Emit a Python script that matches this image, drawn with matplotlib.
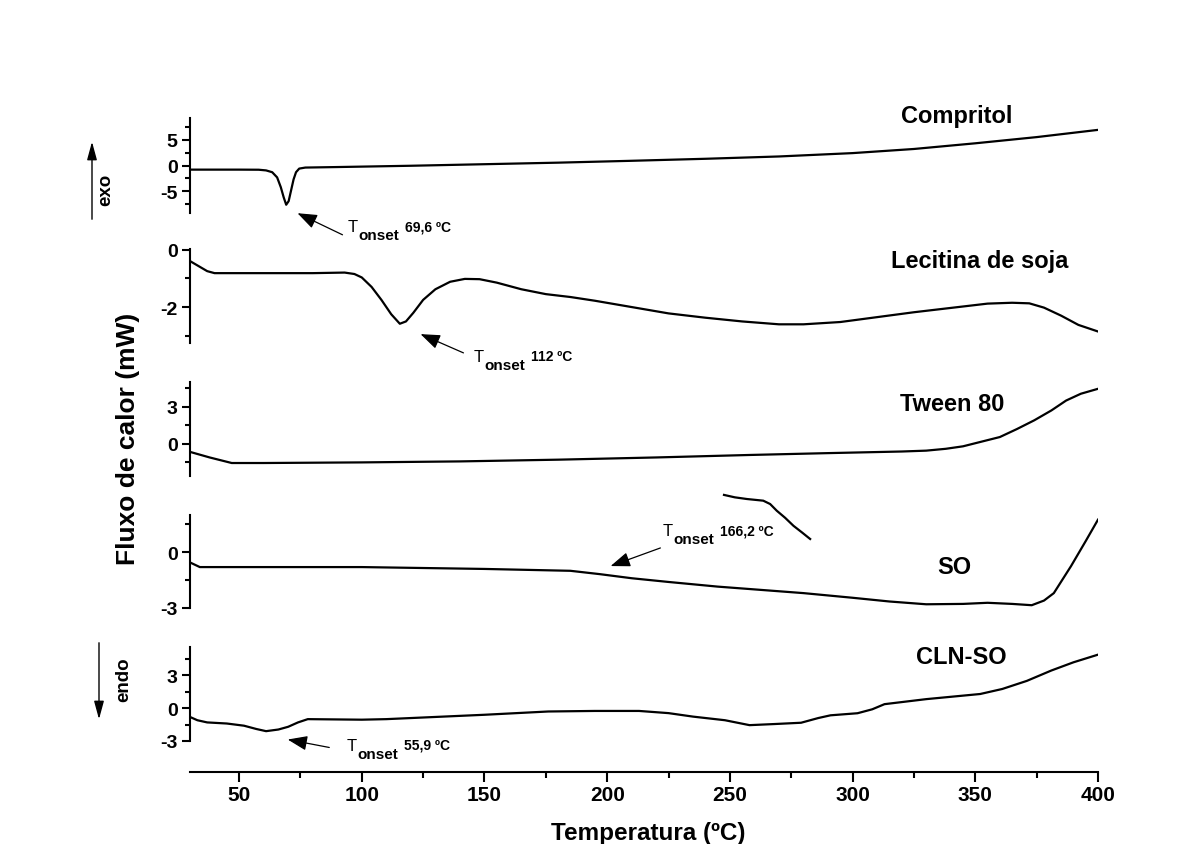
import numpy as np
import matplotlib
matplotlib.use("Agg")
import matplotlib.pyplot as plt
from matplotlib.patches import FancyArrowPatch
from matplotlib.ticker import FixedLocator, MultipleLocator

plt.rcParams["font.family"] = ["Liberation Sans", "DejaVu Sans"]
plt.rcParams["font.weight"] = "bold"
plt.rcParams["axes.unicode_minus"] = False

# ---- data ----
comp_t = [30, 50, 58, 61, 63.5, 65.5, 67, 68.2, 69.2, 70.2, 71.2, 72.2, 73.2, 74.5, 77,
          90, 120, 150, 180, 209, 240, 270, 300, 325, 350, 375, 400]
comp_v = [-0.8, -0.8, -0.82, -0.95, -1.3, -2.3, -4.2, -6.2, -7.6, -6.9, -4.8, -2.7, -1.3, -0.6, -0.4,
          -0.3, -0.05, 0.25, 0.55, 0.9, 1.3, 1.75, 2.4, 3.2, 4.3, 5.5, 6.9]

leci_t = [30, 33, 37, 40, 60, 80, 93, 97, 100, 104, 108, 112, 115.5, 118, 121, 125, 130, 136,
          142, 148, 155, 165, 175, 185, 195, 210, 225, 240, 255, 270, 280, 295, 310, 325,
          340, 355, 365, 372, 378, 385, 392, 400]
leci_v = [-0.4, -0.55, -0.75, -0.82, -0.82, -0.82, -0.8, -0.85, -0.97, -1.3, -1.75, -2.25, -2.58,
          -2.5, -2.2, -1.75, -1.38, -1.12, -1.02, -1.03, -1.15, -1.38, -1.55, -1.65, -1.78, -2.0,
          -2.22, -2.37, -2.5, -2.6, -2.6, -2.52, -2.35, -2.18, -2.03, -1.88, -1.85, -1.87, -2.02,
          -2.3, -2.62, -2.85]

tween_t = [30, 38, 47, 60, 100, 140, 180, 220, 258, 290, 320, 330, 338, 345, 352, 360, 367,
           374, 381, 387, 393, 400]
tween_v = [-0.65, -1.1, -1.55, -1.55, -1.5, -1.42, -1.28, -1.1, -0.9, -0.75, -0.62, -0.55, -0.4,
           -0.2, 0.15, 0.55, 1.2, 1.9, 2.7, 3.5, 4.05, 4.45]

so_t = [30, 34, 60, 100, 150, 185, 197, 210, 225, 245, 260, 280, 300, 315, 330, 345, 355, 365,
        373, 378, 382, 389, 395, 400]
so_v = [-0.55, -0.8, -0.8, -0.8, -0.9, -1.0, -1.18, -1.4, -1.6, -1.85, -2.0, -2.2, -2.45, -2.65,
        -2.8, -2.78, -2.72, -2.78, -2.85, -2.6, -2.2, -0.75, 0.6, 1.75]

# stray trace fragment drawn above the SO curve
so_frag_t = [247.6, 252, 256.9, 263.6, 266.4, 269.1, 272.5, 275.9, 279.5, 282.7]
so_frag_v = [3.08, 2.95, 2.86, 2.77, 2.59, 2.23, 1.85, 1.42, 1.05, 0.71]

cln_t = [30, 33, 37, 45, 52, 57, 61, 66, 70, 74, 78, 100, 110, 130, 150, 176, 195, 213, 225,
         235, 248, 258, 268, 279, 286, 291, 302, 308, 313, 330, 352, 361, 371, 381, 390, 400]
cln_v = [-0.8, -1.1, -1.3, -1.4, -1.6, -1.9, -2.1, -1.95, -1.7, -1.3, -1.0, -1.05, -1.0, -0.8,
         -0.6, -0.3, -0.25, -0.25, -0.45, -0.77, -1.1, -1.55, -1.45, -1.33, -0.9, -0.65, -0.46,
         -0.1, 0.37, 0.83, 1.3, 1.76, 2.5, 3.45, 4.2, 4.9]

names = ["Compritol", "Lecitina de soja", "Tween 80", "SO", "CLN-SO"]
x_ticks = [50, 100, 150, 200, 250, 300, 350, 400]

W, H = 1203, 845


def fx(px):
    return px / W


def fy(py):
    return 1 - py / H


panels = [
    # name, t, v, ylim, major, minor, (top, bottom px), label centre px
    (names[0], comp_t, comp_v, (-9.2, 9.2), [-5, 0, 5], [-7.5, -2.5, 2.5, 7.5], (119, 214), (957, 116)),
    (names[1], leci_t, leci_v, (-3.25, 0.02), [-2, 0], [-3, -1], (250, 344), (980, 262)),
    (names[2], tween_t, tween_v, (-2.6, 5.0), [0, 3], [-1.5, 1.5, 4.5], (383, 477), (952, 405)),
    (names[3], so_t, so_v, (-3, 2), [-3, 0], [-1.5, 1.5], (516, 609), (954, 567)),
    (names[4], cln_t, cln_v, (-3, 5.6), [-3, 0, 3], [-1.5, 1.5, 4.5], (648, 742), (961, 658)),
]

fig = plt.figure(figsize=(W / 100, H / 100), dpi=100)
fig.patch.set_facecolor("white")

x0, x1 = 190, 1098
axes = []
for name, t, v, ylim, major, minor, (top, bot), (lx, ly) in panels:
    ax = fig.add_axes([fx(x0), fy(bot), (x1 - x0) / W, (bot - top) / H])
    ax.plot(t, v, color="black", lw=1.6, solid_joinstyle="round")
    ax.set_xlim(30, 400)
    ax.set_ylim(*ylim)
    ax.patch.set_alpha(0)
    for s in ["top", "right", "bottom"]:
        ax.spines[s].set_visible(False)
    ax.spines["left"].set_linewidth(1.5)
    ax.yaxis.set_major_locator(FixedLocator(major))
    ax.yaxis.set_minor_locator(FixedLocator(minor))
    ax.tick_params(axis="y", which="major", direction="out", length=6, width=1.5,
                   labelsize=14, pad=3)
    ax.tick_params(axis="y", which="minor", direction="out", length=3.5, width=1.5)
    ax.tick_params(axis="x", which="both", bottom=False, labelbottom=False)
    fig.text(fx(lx), fy(ly), name, ha="center", va="center", fontsize=17, fontweight="bold")
    axes.append(ax)

# stray fragment on the SO panel
axes[3].plot(so_frag_t, so_frag_v, color="black", lw=1.6, clip_on=False)

# bottom panel carries the detached temperature axis
axb = axes[4]
axb.spines["bottom"].set_visible(True)
axb.spines["bottom"].set_position(("outward", 22))
axb.spines["bottom"].set_linewidth(1.5)
axb.xaxis.set_major_locator(FixedLocator(x_ticks))
axb.xaxis.set_minor_locator(MultipleLocator(25))
axb.tick_params(axis="x", which="major", bottom=True, labelbottom=True, direction="out",
                length=7, width=1.5, labelsize=15, pad=3)
axb.tick_params(axis="x", which="minor", bottom=True, direction="out", length=4, width=1.5)
fig.text(fx(648), fy(834), "Temperatura (ºC)", ha="center", va="center",
         fontsize=17.5, fontweight="bold")

fig.text(fx(128), fy(439), "Fluxo de calor (mW)", rotation=90, ha="center", va="center",
         fontsize=19, fontweight="bold")

# exo / endo arrows
for (xa, ya), (xb, yb) in [((92, 223), (92, 140)), ((99, 641), (99, 723))]:
    fig.add_artist(FancyArrowPatch((fx(xa), fy(ya)), (fx(xb), fy(yb)), transform=fig.transFigure,
                                   arrowstyle="-|>,head_length=1.1,head_width=0.3",
                                   mutation_scale=10, lw=1.0, color="black"))
fig.text(fx(106), fy(190), "exo", rotation=90, ha="center", va="center", fontsize=13.5,
         fontweight="bold")
fig.text(fx(124), fy(680), "endo", rotation=90, ha="center", va="center", fontsize=13.5,
         fontweight="bold")

# onset annotations: arrow tail, arrow head, text anchor (px)
onsets = [
    ((345, 237), (295, 213), (348, 232), "69,6 ºC"),
    ((466, 355), (418, 334), (474, 362), "112 ºC"),
    ((663, 548), (608, 568), (663, 536), "166,2 ºC"),
    ((332, 749), (285, 740), (347, 751), "55,9 ºC"),
]
for tail, head, (tx, ty), val in onsets:
    fig.add_artist(FancyArrowPatch((fx(tail[0]), fy(tail[1])), (fx(head[0]), fy(head[1])),
                                   transform=fig.transFigure,
                                   arrowstyle="-|>,head_length=1.2,head_width=0.45",
                                   mutation_scale=10, lw=0.9, color="black"))
    fig.text(fx(tx), fy(ty), "T", ha="left", va="baseline", fontsize=12, fontweight="normal")
    fig.text(fx(tx + 10), fy(ty + 8), "onset", ha="left", va="baseline", fontsize=11,
             fontweight="bold")
    fig.text(fx(tx + 57), fy(ty - 1), val, ha="left", va="baseline", fontsize=10,
             fontweight="bold")

fig.savefig("out.png", dpi=100)
